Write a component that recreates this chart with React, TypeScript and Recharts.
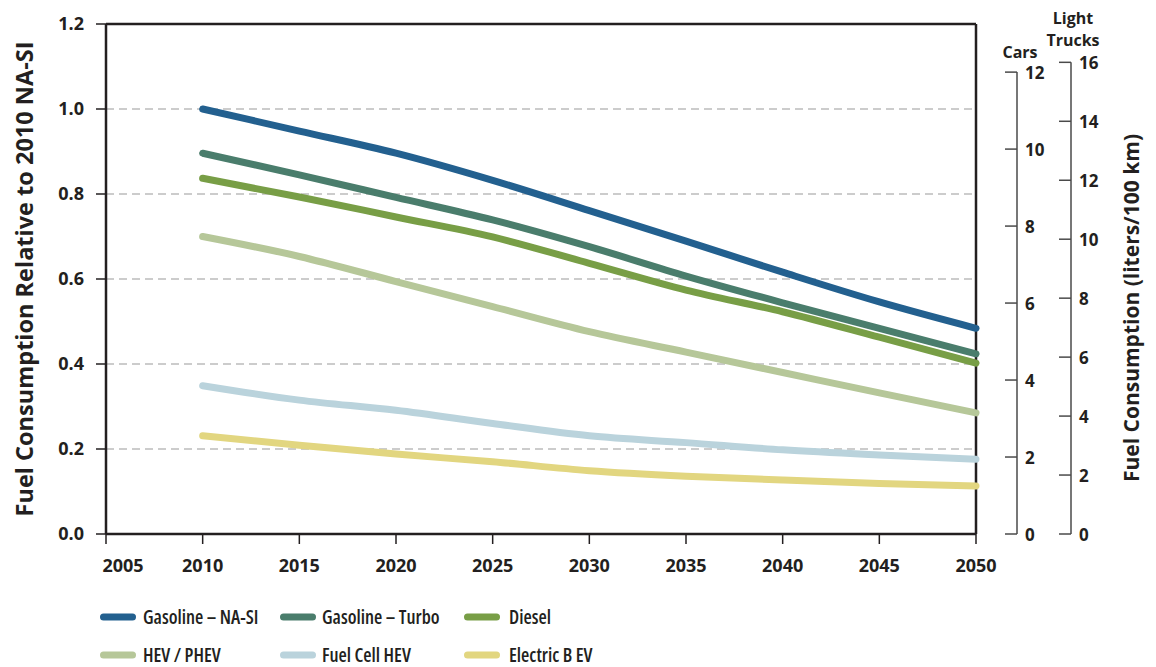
import React from 'react';
import {
  ComposedChart,
  Line,
  XAxis,
  YAxis,
  CartesianGrid,
  ReferenceLine,
  Legend,
} from 'recharts';

// ---------- data ----------
const years = [2010, 2015, 2020, 2025, 2030, 2035, 2040, 2045, 2050];
const gasolineNASI = [1.0, 0.948, 0.896, 0.832, 0.761, 0.689, 0.616, 0.546, 0.484];
const gasolineTurbo = [0.896, 0.845, 0.792, 0.739, 0.676, 0.607, 0.544, 0.484, 0.424];
const diesel = [0.837, 0.793, 0.746, 0.699, 0.637, 0.574, 0.523, 0.463, 0.402];
const hevPhev = [0.7, 0.653, 0.594, 0.535, 0.476, 0.428, 0.38, 0.332, 0.285];
const fuelCellHev = [0.349, 0.315, 0.291, 0.26, 0.231, 0.215, 0.198, 0.186, 0.176];
const electricBev = [0.231, 0.209, 0.188, 0.17, 0.149, 0.136, 0.127, 0.119, 0.113];

const xTicks = [2005, 2010, 2015, 2020, 2025, 2030, 2035, 2040, 2045, 2050];
const relTicks = [0, 0.2, 0.4, 0.6, 0.8, 1.0, 1.2];
const carTicks = [0, 2, 4, 6, 8, 10, 12];
const truckTicks = [0, 2, 4, 6, 8, 10, 12, 14, 16];

const leftTitle = 'Fuel Consumption Relative to 2010 NA-SI';
const rightTitle = 'Fuel Consumption (liters/100 km)';

const series = [
  { key: 'nasi', name: 'Gasoline \u2013 NA-SI', color: '#23608f', values: gasolineNASI },
  { key: 'turbo', name: 'Gasoline \u2013 Turbo', color: '#4a7d6c', values: gasolineTurbo },
  { key: 'diesel', name: 'Diesel', color: '#789e46', values: diesel },
  { key: 'hev', name: 'HEV / PHEV', color: '#b6c799', values: hevPhev },
  { key: 'fc', name: 'Fuel Cell HEV', color: '#bad3dc', values: fuelCellHev },
  { key: 'bev', name: 'Electric B EV', color: '#e2d680', values: electricBev },
];

const data = years.map((year, i) => {
  const row: Record<string, number> = { year };
  series.forEach((s) => {
    row[s.key] = s.values[i];
  });
  return row;
});

// ---------- layout / style ----------
const FONT = "'Open Sans', 'Noto Sans', sans-serif";
const INK = '#231f20';
const W = 1140;
const H = 659;
const PLOT_TOP = 16;
const PLOT_BOTTOM = 526;
const CARS_LINE_X = 1009;
const TRUCKS_LINE_X = 1063;

const XTick = (props: any) => {
  const { x, y, payload, index } = props;
  const shift = index === 0 ? 17 : 0;
  return (
    <text
      x={x + shift}
      y={y}
      dy={26}
      textAnchor="middle"
      fill={INK}
      fontSize={18}
      fontWeight={700}
      fontFamily={FONT}
    >
      {payload.value}
    </text>
  );
};

const RightTick = (props: any) => {
  const { y, payload, lineX, topValue, titles } = props;
  const isTop = payload.value === topValue;
  return (
    <g>
      <line x1={lineX - 12} x2={lineX} y1={y} y2={y} stroke="#4a4a4a" strokeWidth={1.5} />
      {isTop && (
        <line x1={lineX} x2={lineX} y1={y} y2={PLOT_BOTTOM} stroke="#4a4a4a" strokeWidth={1.5} />
      )}
      <text
        x={lineX + 8}
        y={y}
        dominantBaseline="central"
        textAnchor="start"
        fill={INK}
        fontSize={17}
        fontWeight={700}
        fontFamily={FONT}
      >
        {payload.value}
      </text>
      {isTop &&
        titles.map((t: any, i: number) => (
          <text
            key={i}
            x={t.x}
            y={y + t.dy}
            dominantBaseline="central"
            textAnchor="middle"
            fill={INK}
            fontSize={16}
            fontWeight={700}
            fontFamily={FONT}
            style={{ fontStretch: '88%' }}
          >
            {t.text}
          </text>
        ))}
    </g>
  );
};

const LeftTitle = () => {
  const cx = 16;
  const cy = (PLOT_TOP + PLOT_BOTTOM) / 2;
  return (
    <text
      x={cx}
      y={cy}
      transform={`rotate(-90 ${cx} ${cy})`}
      textAnchor="middle"
      dominantBaseline="central"
      fill={INK}
      fontSize={23.5}
      fontWeight={700}
      fontFamily={FONT}
    >
      {leftTitle}
    </text>
  );
};

const RightTitle = () => {
  const cx = 1123;
  const cy = (PLOT_TOP + PLOT_BOTTOM) / 2 + 29;
  return (
    <text
      x={cx}
      y={cy}
      transform={`rotate(-90 ${cx} ${cy})`}
      textAnchor="middle"
      dominantBaseline="central"
      fill={INK}
      fontSize={21}
      fontWeight={700}
      fontFamily={FONT}
    >
      {rightTitle}
    </text>
  );
};

const colLeft = [0, 180, 364];
const textOffset = [43, 42, 45];
const rowCenter = [20, 58];

const renderLegend = () => (
  <div style={{ position: 'relative', width: 720, height: 69, fontFamily: FONT }}>
    {series.map((s, i) => {
      const col = i % 3;
      const row = Math.floor(i / 3);
      const cy = rowCenter[row];
      return (
        <div key={s.key}>
          <svg
            width={40}
            height={10}
            style={{ position: 'absolute', left: colLeft[col], top: cy - 5 }}
          >
            <line
              x1={3.5}
              x2={32.5}
              y1={5}
              y2={5}
              stroke={s.color}
              strokeWidth={7}
              strokeLinecap="round"
            />
          </svg>
          <span
            style={{
              position: 'absolute',
              left: colLeft[col] + textOffset[col],
              top: cy - 11,
              lineHeight: '22px',
              fontSize: 19,
              fontWeight: 600,
              fontStretch: '78%',
              color: INK,
              whiteSpace: 'nowrap',
            }}
          >
            {s.name}
          </span>
        </div>
      );
    })}
  </div>
);

export default function App() {
  return (
    <div style={{ width: W, height: H }}>
      <ComposedChart
        width={W}
        height={H}
        data={data}
        margin={{ top: PLOT_TOP, right: 0, left: 0, bottom: H - PLOT_BOTTOM - 40 }}
        style={{ fontFamily: FONT }}
      >
        <CartesianGrid
          yAxisId="rel"
          vertical={false}
          stroke="#9a9a9a"
          strokeWidth={1.2}
          strokeDasharray="8 5"
        />
        <XAxis
          dataKey="year"
          type="number"
          domain={[2005, 2050]}
          ticks={xTicks}
          interval={0}
          height={40}
          tick={<XTick />}
          tickSize={10}
          tickLine={{ stroke: INK, strokeWidth: 1.5 }}
          axisLine={{ stroke: INK, strokeWidth: 2.5 }}
        />
        <YAxis
          yAxisId="rel"
          orientation="left"
          width={98}
          domain={[0, 1.2]}
          ticks={relTicks}
          interval={0}
          tickFormatter={(v: number) => v.toFixed(1)}
          tickSize={10}
          tickMargin={12}
          tick={{ fill: INK, fontSize: 18, fontWeight: 700, fontFamily: FONT }}
          tickLine={{ stroke: INK, strokeWidth: 1.5 }}
          axisLine={{ stroke: INK, strokeWidth: 2.5 }}
          label={<LeftTitle />}
        />
        <YAxis
          yAxisId="cars"
          orientation="right"
          width={54}
          type="number"
          domain={[0, 13.25]}
          allowDataOverflow
          ticks={carTicks}
          interval={0}
          tickSize={0}
          tickMargin={0}
          axisLine={false}
          tickLine={false}
          tick={
            <RightTick
              lineX={CARS_LINE_X}
              topValue={12}
              titles={[{ text: 'Cars', x: 1012, dy: -20 }]}
            />
          }
        />
        <YAxis
          yAxisId="trucks"
          orientation="right"
          width={118}
          type="number"
          domain={[0, 17.3]}
          allowDataOverflow
          ticks={truckTicks}
          interval={0}
          tickSize={0}
          tickMargin={0}
          axisLine={false}
          tickLine={false}
          tick={
            <RightTick
              lineX={TRUCKS_LINE_X}
              topValue={16}
              titles={[
                { text: 'Light', x: 1065, dy: -44 },
                { text: 'Trucks', x: 1065, dy: -22 },
              ]}
            />
          }
          label={<RightTitle />}
        />
        <ReferenceLine yAxisId="rel" y={1.2} stroke={INK} strokeWidth={2.5} />
        <ReferenceLine yAxisId="rel" x={2050} stroke={INK} strokeWidth={2.5} />
        {series.map((s) => (
          <Line
            key={s.key}
            yAxisId="rel"
            type="monotone"
            dataKey={s.key}
            name={s.name}
            stroke={s.color}
            strokeWidth={7}
            strokeLinecap="round"
            dot={false}
            activeDot={false}
            isAnimationActive={false}
          />
        ))}
        <Legend
          verticalAlign="middle"
          align="center"
          layout="horizontal"
          wrapperStyle={{ top: 589, left: 92, width: 720, height: 69 }}
          content={renderLegend}
        />
      </ComposedChart>
    </div>
  );
}
